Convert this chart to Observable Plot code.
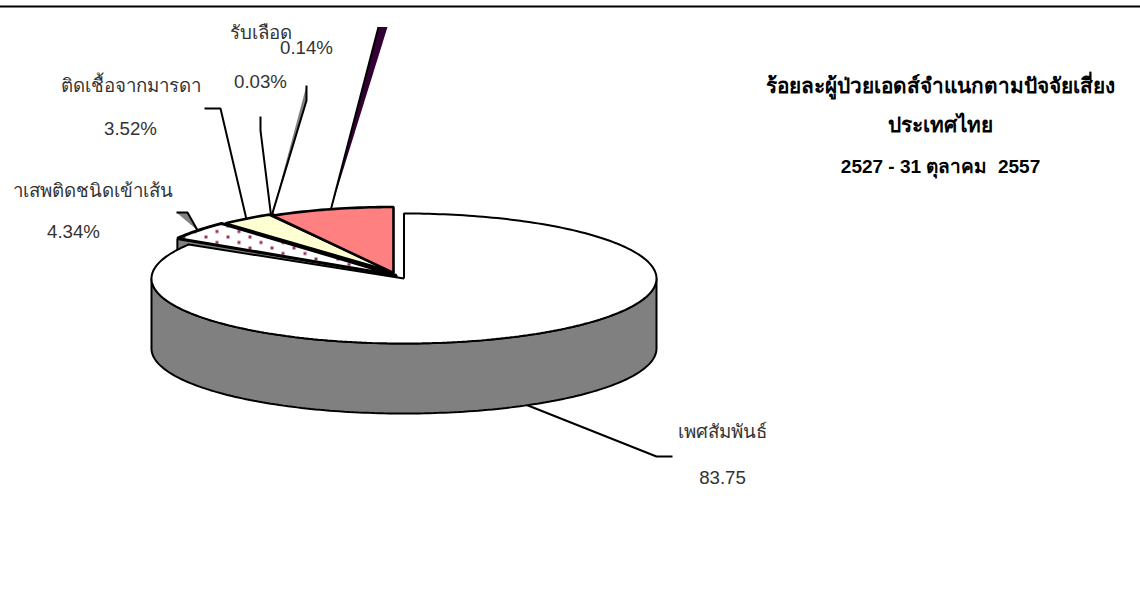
<!DOCTYPE html>
<html><head><meta charset="utf-8">
<style>html,body{margin:0;padding:0;background:#fff;overflow:hidden}svg{display:block}</style>
<script src="https://cdn.jsdelivr.net/npm/d3@7"></script>
<script src="https://cdn.jsdelivr.net/npm/@observablehq/plot@0.6"></script>
</head><body><script>
// data
const categories = ["เพศสัมพันธ์","าเสพติดชนิดเข้าเส้น","ติดเชื้อจากมารดา","รับเลือด","","อื่นๆ"];
const shares = [83.75,4.34,3.52,0.03,0.14,8.22];
const valueLabels = ["83.75","4.34%","3.52%","0.03%","0.14%",""];
const titleLines = ["ร้อยละผู้ป่วยเอดส์จำแนกตามปัจจัยเสี่ยง","ประเทศไทย","2527 - 31 ตุลาคม\u00a0\u00a02557"];

// layout
const W=1140,H=607;
const depth=70;
const discs=[
 {cx:403.5,cy:278,rx:252.5,ry:65},
 {cx:396,cy:275,rx:257,ry:71},
 {cx:393.5,cy:272,rx:248,ry:67},
 {cx:393.5,cy:272,rx:245,ry:67},
 {cx:393.5,cy:272,rx:245,ry:67},
 {cx:393,cy:272.5,rx:245,ry:66}];
const fills=["#ffffff","url(#dots)","url(#check)","#808080","#808080","#ff8080"];
const edge=[2,3,2.6,2,2,2.6];
const elbows=[[[656,456],[672,456]],[[187,212],[176,212]],[[220,108],[204,108]],[[260,130],[260,116]],[[306,100],[306,85]],[[378,26.5]]];
const leaderFill=["none","#808080","none","none","#808080","none"];
const labelAt=[[722,432],[92,191],[130,86],[260,33],[0,0],null];
const valueAt=[[722,478],[73,232],[130,129],[260,82],[306,48],null];
const titleY=[86,125,166];
const titleSize=[20.8,20.8,19];

// angles from values, clockwise from twelve o'clock
let run=0;
const total=d3.sum(shares);
const slices=shares.map((v,i)=>{const a0=run/total*2*Math.PI;run+=v;const a1=run/total*2*Math.PI;return{i,a0,a1,mid:(a0+a1)/2,c:discs[i]}});
const rim=(c,a,dy=0)=>({x:c.cx+c.rx*Math.sin(a),y:c.cy-c.ry*Math.cos(a)+dy});
const arc=(c,a0,a1,dy=0)=>{const n=Math.max(2,Math.ceil((a1-a0)/0.02));return d3.range(n+1).map(k=>rim(c,a0+(a1-a0)*k/n,dy))};
const wedge=s=>{const o={x:s.c.cx,y:s.c.cy};return[o,...arc(s.c,s.a0,s.a1),o]};
const shape=(pts,opt)=>Plot.line(pts,{x:"x",y:"y",stroke:"#000",strokeWidth:2,strokeLinejoin:"miter",strokeLinecap:"butt",curve:"linear",...opt});

const defs=()=>{const d=d3.create("svg:defs");
 const p=d.append("pattern").attr("id","dots").attr("patternUnits","userSpaceOnUse").attr("width",22).attr("height",11).attr("x",4).attr("y",2);
 p.append("rect").attr("width",22).attr("height",11).attr("fill","#fff");
 for(const [x,y] of [[2,2],[13,7.5]])p.append("rect").attr("x",x).attr("y",y).attr("width",3).attr("height",3).attr("fill","#993366");
 const q=d.append("pattern").attr("id","check").attr("patternUnits","userSpaceOnUse").attr("width",4).attr("height",4);
 q.append("rect").attr("width",4).attr("height",4).attr("fill","#ffffcc");
 q.append("rect").attr("x",1).attr("y",1).attr("width",1.5).attr("height",1.5).attr("fill","#fff");
 return d.node()};

const main=slices[0], dotted=slices[1];
const o2={x:dotted.c.cx,y:dotted.c.cy};
const dotEdge=rim(dotted.c,dotted.a0);
const marks=[defs,
 Plot.ruleY([6],{stroke:"#000",strokeWidth:2}),
 // cut face of the exploded slice
 shape([dotEdge,{x:dotEdge.x,y:dotEdge.y+depth},{x:o2.x,y:o2.y+depth},o2,dotEdge],{fill:"#808080"}),
 // outer wall of the main slice
 shape([...arc(main.c,Math.PI/2,1.5*Math.PI),...arc(main.c,Math.PI/2,1.5*Math.PI,depth).reverse(),rim(main.c,Math.PI/2)],{fill:"#808080"}),
 shape(wedge(main),{fill:fills[0]})
];
// leaders
slices.forEach((s,i)=>{
 const start=rim(s.c,s.mid,i===0?depth:0);
 const pts=[start,...elbows[i].map(([x,y])=>({x,y}))];
 if(i===5){
  marks.push(shape([start,pts[1],{x:387,y:26.5},start],{stroke:"none",fill:"#330033"}));
  marks.push(shape(pts,{}));
 } else {
  marks.push(shape(pts,{fill:leaderFill[i]}));
 }
});
// exploded slices
[1,2,3,4,5].forEach(i=>marks.push(shape(wedge(slices[i]),{fill:fills[i],strokeWidth:edge[i]})));
// labels
const lab=categories.map((t,i)=>({t,at:labelAt[i]})).filter(d=>d.t&&d.at);
const val=valueLabels.map((t,i)=>({t,at:valueAt[i]})).filter(d=>d.t&&d.at);
const font={fontFamily:"Liberation Sans, Arial, Noto Sans, sans-serif",fontSize:18.7,fill:"#333",textAnchor:"middle",lineAnchor:"middle"};
marks.push(Plot.text(lab,{x:d=>d.at[0],y:d=>d.at[1],text:"t",...font}));
marks.push(Plot.text(val,{x:d=>d.at[0],y:d=>d.at[1],text:"t",...font}));
titleLines.forEach((t,i)=>marks.push(Plot.text([t],{x:()=>940,y:()=>titleY[i],text:d=>d,...font,fill:"#000",fontWeight:"bold",fontSize:titleSize[i]})));

document.body.append(Plot.plot({width:W,height:H,margin:0,
 x:{domain:[0,W],range:[0,W],axis:null},y:{domain:[0,H],range:[0,H],axis:null},marks}));
</script></body></html>
